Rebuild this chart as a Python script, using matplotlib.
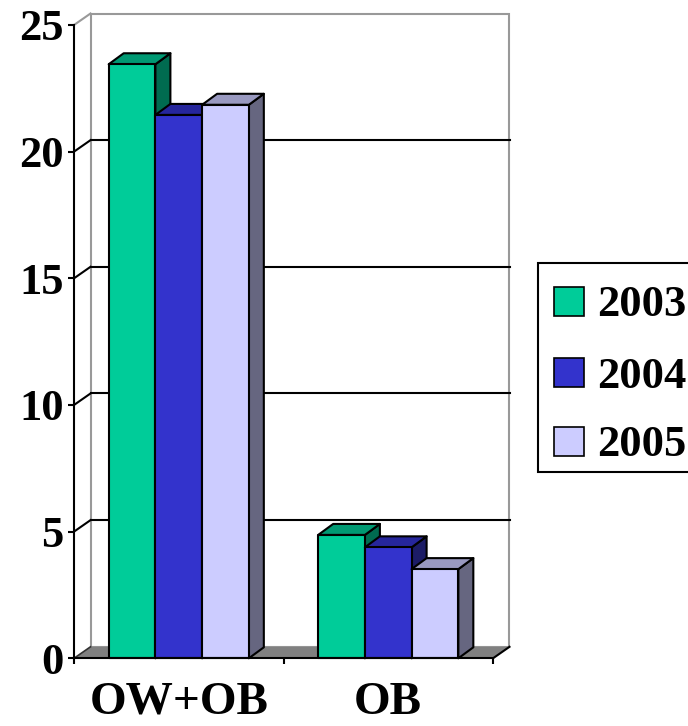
import numpy as np
import matplotlib.pyplot as plt
from matplotlib.patches import Polygon, Rectangle

# values per group (OW+OB, OB) for each year
categories = ['OW+OB', 'OB']
years = ['2003', '2004', '2005']
v2003 = [23.45, 4.87]
v2004 = [21.45, 4.38]
v2005 = [21.85, 3.52]
yticks = [0, 5, 10, 15, 20, 25]

front_colors = ['#00CC99', '#3333CC', '#CCCCFF']
top_colors = ['#009973', '#26269C', '#9999C0']
side_colors = ['#006B50', '#1C1C66', '#666680']

FONT = ['Liberation Serif', 'DejaVu Serif']

W, H = 688, 726
fig = plt.figure(figsize=(W / 100, H / 100), dpi=100)
ax = fig.add_axes([74 / W, (H - 658.3) / H, 419 / W, 633.3 / H])
ax.set_xlim(0, 2)
ax.set_ylim(0, 25)
ax.patch.set_visible(False)

# pixel -> data conversion for the fake depth
px_x = 2 / 419
px_y = 25 / 633.3
wdx, wdy = 16.5 * px_x, 11.5 * px_y
bdx, bdy = 15 * px_x, 11 * px_y

# back wall
ax.add_patch(Rectangle((wdx, wdy), 2, 25, facecolor='white', edgecolor='#999999',
                       lw=1.5, zorder=1, clip_on=False))
for v in yticks[1:-1]:
    ax.plot([wdx, 2 + wdx], [v + wdy, v + wdy], color='black', lw=1.5, zorder=1.5, clip_on=False)
    ax.plot([0, wdx], [v, v + wdy], color='black', lw=1.5, zorder=1.5, clip_on=False)
ax.plot([0, wdx], [25, 25 + wdy], color='#999999', lw=1.5, zorder=1.5, clip_on=False)

# floor
ax.add_patch(Polygon([(0, 0), (2, 0), (2 + wdx, wdy), (wdx, wdy)], closed=True,
                     facecolor='#808080', edgecolor='none', zorder=2, clip_on=False))
ax.plot([0, wdx], [0, wdy], color='#333333', lw=1.2, zorder=2.1, clip_on=False)
ax.plot([2, 2 + wdx], [0, wdy], color='black', lw=1.5, zorder=2.1, clip_on=False)

# 3d columns
width = 0.223
series = [v2003, v2004, v2005]
z = 3
for g in range(len(categories)):
    for i, vals in enumerate(series):
        x0 = g + 0.5 + (i - 1) * width - width / 2
        x1 = x0 + width
        h = vals[g]
        kw = dict(edgecolor='black', lw=1.5, joinstyle='round', clip_on=False)
        ax.add_patch(Polygon([(x1, 0), (x1 + bdx, bdy), (x1 + bdx, h + bdy), (x1, h)],
                             facecolor=side_colors[i], zorder=z, **kw))
        ax.add_patch(Polygon([(x0, h), (x1, h), (x1 + bdx, h + bdy), (x0 + bdx, h + bdy)],
                             facecolor=top_colors[i], zorder=z, **kw))
        ax.add_patch(Rectangle((x0, 0), width, h, facecolor=front_colors[i], zorder=z, **kw))
        z += 0.1

# axes
for s in ['top', 'right']:
    ax.spines[s].set_visible(False)
for s in ['left', 'bottom']:
    ax.spines[s].set_linewidth(1.5)
    ax.spines[s].set_zorder(10)
ax.set_yticks(yticks)
ax.set_yticklabels([str(t) for t in yticks], fontfamily=FONT, fontweight='bold', fontsize=32)
ax.tick_params(axis='y', direction='out', length=4.5, width=1.5, pad=3)
ax.set_xticks([0, 1, 2])
ax.set_xticklabels([])
ax.tick_params(axis='x', which='major', direction='out', length=4.5, width=1.5)
ax.set_xticks([0.5, 1.5], minor=True)
ax.set_xticklabels(categories, minor=True, fontfamily=FONT, fontweight='bold', fontsize=34)
ax.tick_params(axis='x', which='minor', length=0, pad=17)

# legend box
def fx(x):
    return x / W

def fy(y):
    return (H - y) / H

fig.add_artist(Rectangle((fx(538), fy(472)), fx(740) - fx(538), fy(263) - fy(472),
                         transform=fig.transFigure, facecolor='white', edgecolor='black',
                         lw=1.5, clip_on=False))
for i, (yr, cy) in enumerate(zip(years, [301, 372, 441])):
    fig.add_artist(Rectangle((fx(554), fy(cy + 14.5)), fx(30), 29 / H, transform=fig.transFigure,
                             facecolor=front_colors[i], edgecolor='black', lw=1.2))
    fig.text(fx(597), fy(cy), yr, fontfamily=FONT, fontweight='bold', fontsize=32,
             ha='left', va='center_baseline')

fig.savefig('out.png', dpi=100)
